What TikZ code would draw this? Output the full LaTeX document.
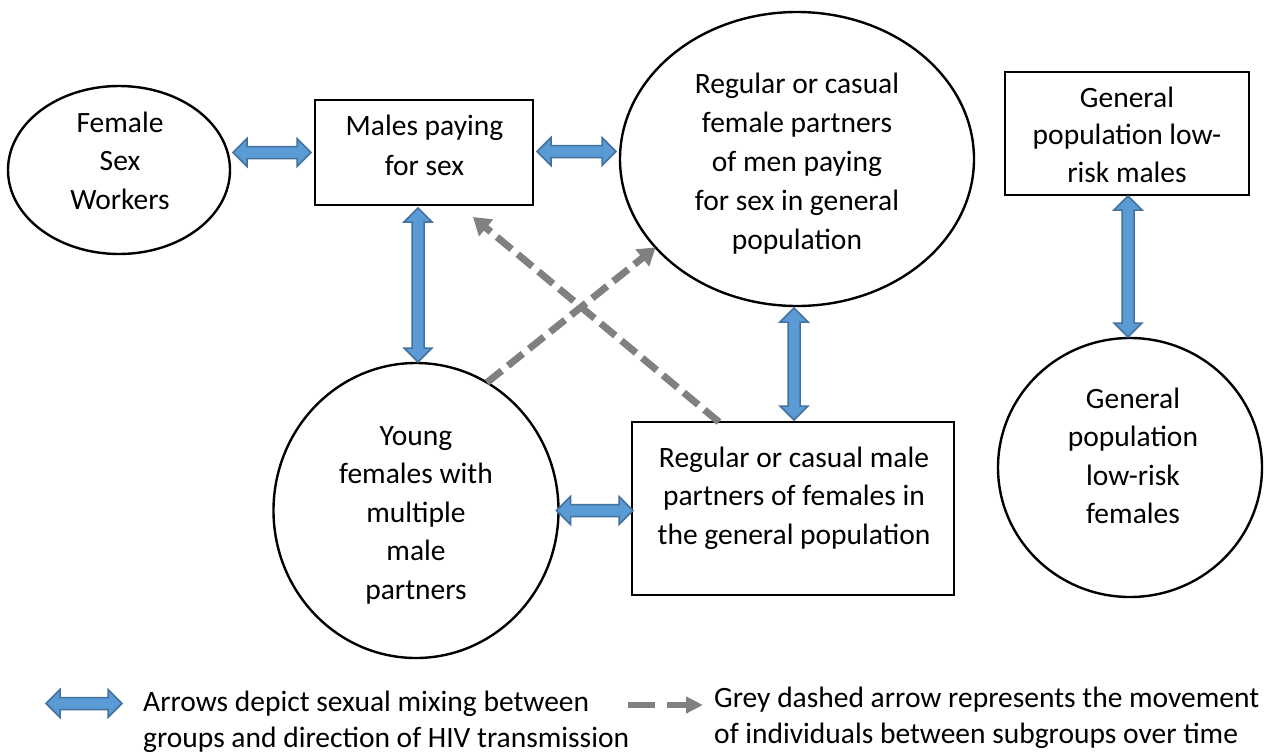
\documentclass[tikz,border=0pt]{standalone}
\usepackage{fontspec}
\setmainfont{Carlito}
\usetikzlibrary{shapes.geometric,calc,arrows.meta}

\definecolor{mixfill}{RGB}{91,155,213}
\definecolor{mixline}{RGB}{65,113,156}
\definecolor{movegrey}{RGB}{128,128,128}

% centred / left-aligned stacks of lines whose baseline is the first line
\newcommand\stackc[1]{\begin{tabular}[t]{@{}c@{}}#1\end{tabular}}
\newcommand\stackl[1]{\begin{tabular}[t]{@{}l@{}}#1\end{tabular}}

% two-headed block arrow (sexual mixing) from #1 to #2
\newcommand\mixarrow[2]{%
  \path[mixing] let \p1=#1, \p2=#2,
      \n1={atan2(\y2-\y1,\x2-\x1)},
      \n2={veclen(\x2-\x1,\y2-\y1)} in
    [shift={(\p1)}, rotate=\n1]
    (0pt,0pt) -- (14pt,14pt) -- (14pt,6pt) -- ({\n2-14pt},6pt)
    -- ({\n2-14pt},14pt) -- ({\n2+0pt},0pt) -- ({\n2-14pt},-14pt)
    -- ({\n2-14pt},-6pt) -- (14pt,-6pt) -- (14pt,-14pt) -- cycle;}

\tikzset{
  group/.style={draw=black, line width=2.4pt, inner sep=0pt, outer sep=0pt},
  oval/.style={group, ellipse},
  box/.style={group, rectangle},
  grouptext/.style={anchor=base, inner sep=0pt,
    font=\fontsize{29.5pt}{38.5pt}\selectfont},
  keytext/.style={anchor=base west, inner sep=0pt,
    font=\fontsize{29.5pt}{36pt}\selectfont},
  mixing/.style={fill=mixfill, draw=mixline, line width=1.5pt, line join=miter},
  movement/.style={draw=movegrey, line width=7pt, dash pattern=on 19pt off 8pt,
    -{Triangle[length=17pt,width=21pt]}},
  movement key/.style={draw=movegrey, line width=6pt, dash pattern=on 27pt off 12pt,
    -{Triangle[length=17pt,width=16pt]}}
}

\begin{document}
\begin{tikzpicture}[x=1pt,y=-1pt]
\fill[white] (0,0) rectangle (1269,753);
\useasboundingbox (0,0) rectangle (1269,753);

% population groups
\node[oval, minimum width=222pt, minimum height=168pt] (fsw) at (119,170) {};
\node[box,  minimum width=218pt, minimum height=105pt] (mps) at (424,152.5) {};
\node[oval, minimum width=354pt, minimum height=294pt] (rcf) at (797,159) {};
\node[box,  minimum width=244pt, minimum height=123pt] (glm) at (1127,133.5) {};
\node[oval, minimum width=264pt, minimum height=259pt] (glf) at (1130,467.5) {};
\node[oval, minimum width=285pt, minimum height=295pt] (yf)  at (416,510.5) {};
\node[box,  minimum width=322pt, minimum height=173pt] (rcm) at (793,508.5) {};

% group names
\node[grouptext] (fsw-t) at (120,132) {\stackc{Female\\Sex\\Workers}};
\node[grouptext, font=\fontsize{29.5pt}{40pt}\selectfont] (mps-t) at (424.5,135)
  {\stackc{Males paying\\for sex}};
\node[grouptext, font=\fontsize{29.5pt}{39.2pt}\selectfont] (rcf-t) at (797,93)
  {\stackc{Regular or casual\\female partners\\of men paying\\for sex in general\\population}};
\node[grouptext, font=\fontsize{29.5pt}{37.5pt}\selectfont] (glm-t) at (1127,107)
  {\stackc{General\\population low-\\risk males}};
\node[grouptext] (glf-t) at (1133,408)
  {\stackc{General\\population\\low-risk\\females}};
\node[grouptext] (yf-t) at (416,445)
  {\stackc{Young\\females with\\multiple\\male\\partners}};
\node[grouptext] (rcm-t) at (794,467)
  {\stackc{Regular or casual male\\partners of females in\\the general population}};

% sexual mixing
\mixarrow{($(fsw.east |- mps.west)+(3,0)$)}{($(mps.west)+(-4,0)$)}
\mixarrow{($(mps.east)+(4,-1)$)}{($(rcf.west |- mps.east)+(-4,-1)$)}
\mixarrow{($(mps.south)+(-6,3)$)}{($(yf.north)+(2,-1)$)}
\mixarrow{($(rcf.south)+(-3,2)$)}{($(rcm.north)+(1,-2)$)}
\mixarrow{($(yf.east)+(-2,0)$)}{($(rcm.west)+(1,2)$)}
\mixarrow{($(glm.south)+(1,1)$)}{($(glf.north)+(-2,-1)$)}

% movement between subgroups
\draw[movement] ([xshift=-74pt]rcm.north) -- ([xshift=49pt,yshift=-12pt]mps.south);
\draw[movement] (yf.61) -- (rcf.212);

% key
\coordinate (keyA) at (46,703.5);
\coordinate (keyB) at (122,703.5);
\mixarrow{(keyA)}{(keyB)}
\node[keytext] (key-mix) at (143,711.5)
  {\stackl{Arrows depict sexual mixing between\\groups and direction of HIV transmission}};

\coordinate (keyC) at (628,705);
\coordinate (keyD) at (703,705);
\draw[movement key] (keyC) -- (keyD);
\node[keytext] (key-move) at (714,707)
  {\stackl{Grey dashed arrow represents the movement\\of individuals between subgroups over time}};
\end{tikzpicture}
\end{document}
